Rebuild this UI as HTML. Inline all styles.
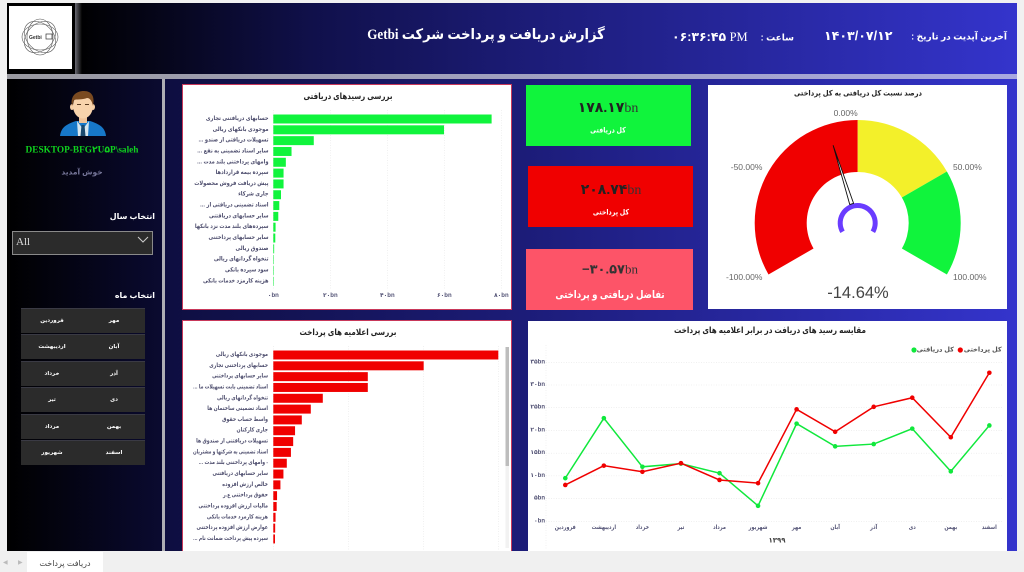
<!DOCTYPE html>
<html lang="fa">
<head>
<meta charset="utf-8">
<title>Getbi dashboard</title>
<style>
html,body{margin:0;padding:0;background:#f1f1f1;}
body{position:relative;width:1024px;height:572px;overflow:hidden;font-family:"Liberation Sans","DejaVu Sans",sans-serif;filter:blur(.35px);}
.a{position:absolute;}
.t{position:absolute;white-space:nowrap;line-height:1;font-weight:bold;}
.c{transform:translate(-50%,-50%);}
.r{transform:translateY(-50%);direction:rtl;}
.serif{font-family:"Liberation Serif","DejaVu Sans",serif;}
.card{position:absolute;background:#fff;overflow:hidden;}
.card svg{position:absolute;left:0;top:0;}
.slicer{position:absolute;width:62px;height:24px;background:#2b2b2b;border-top:1px solid #3a3a44;color:#fff;font-size:5.5px;font-weight:bold;text-align:center;line-height:24px;direction:rtl;}
svg text{font-family:"Liberation Sans","DejaVu Sans",sans-serif;}
</style>
</head>
<body>

<div class="a" style="left:7px;top:3px;width:1010px;height:71px;background:linear-gradient(90deg,#000 7%,#10104a 30%,#1c1c78 52%,#3434cc 100%);"></div>
<div class="a" style="left:7px;top:74px;width:1010px;height:5px;background:linear-gradient(90deg,#9a9aa0,#a8a8e0);"></div>
<div class="a" style="left:75px;top:3px;width:7px;height:71px;background:linear-gradient(90deg,#6a6a72,#000);"></div>
<div class="a" style="left:9px;top:6px;width:63px;height:63px;background:#fff;">
  <svg width="63" height="63" viewBox="0 0 63 63">
    <g fill="none" stroke="#555" stroke-width=".6">
      <ellipse cx="31" cy="31" rx="18" ry="13"/>
      <ellipse cx="31" cy="31" rx="18" ry="13" transform="rotate(45 31 31)"/>
      <ellipse cx="31" cy="31" rx="18" ry="13" transform="rotate(90 31 31)"/>
      <ellipse cx="31" cy="31" rx="18" ry="13" transform="rotate(135 31 31)"/>
    </g>
    <text x="20" y="33" font-size="5" font-weight="bold" fill="#333">Getbi</text>
    <rect x="37" y="28" width="6" height="5" fill="none" stroke="#333" stroke-width=".7"/>
  </svg>
</div>

<div class="t serif" style="left:486px;top:35px;transform:translate(-50%,-50%) scaleX(.9);direction:rtl;color:#fff;font-size:14.5px;">گزارش دریافت و پرداخت شرکت Getbi</div>
<div class="t r" style="right:17px;top:37px;color:#fff;font-size:9px;">آخرین آپدیت در تاریخ :</div>
<div class="t" style="left:824px;top:30px;color:#fff;font-size:12.6px;">۱۴۰۳/۰۷/۱۲</div>
<div class="t r" style="right:230px;top:38px;color:#fff;font-size:9px;">ساعت :</div>
<div class="t" style="left:672px;top:31px;color:#fff;font-size:12.5px;">۰۶:۳۶:۴۵ <span class="serif" style="font-weight:normal;">PM</span></div>

<div class="a" style="left:7px;top:79px;width:155px;height:472px;background:linear-gradient(90deg,#000,#0a0a30);"></div>
<div class="a" style="left:162px;top:79px;width:3px;height:472px;background:#aeaeb4;"></div>
<div class="a" style="left:165px;top:79px;width:852px;height:472px;background:linear-gradient(90deg,#0e0e40,#1c1c78 42%,#3434cc);"></div>

<svg class="a" style="left:55px;top:88px;" width="56" height="50" viewBox="55 88 56 50">
  <path d="M60 136 C61 127 67 124 76 121 L90 121 C99 124 105 127 106 136 Z" fill="#1778c9"/>
  <path d="M77 121 L83 129 L89 121 L88 136 L78 136 Z" fill="#d7e6ef"/>
  <path d="M81.5 125 L84.5 125 L85.5 136 L80.5 136 Z" fill="#1a4a70"/>
  <rect x="79" y="113" width="8" height="10" fill="#efc39a"/>
  <ellipse cx="72" cy="107" rx="2" ry="3" fill="#f6cfa6"/>
  <ellipse cx="93" cy="107" rx="2" ry="3" fill="#f6cfa6"/>
  <ellipse cx="83" cy="106" rx="10" ry="12.5" fill="#f8d3ac"/>
  <path d="M72 106 C70 96 76 91 84 91 C92 91 95 97 93 106 C92 101 90 98 87 98 C82 100 76 99 74 100 Z" fill="#7a4a20"/>
  <rect x="77" y="104" width="4" height="1" fill="#5a3a20"/>
  <rect x="85" y="104" width="4" height="1" fill="#5a3a20"/>
</svg>

<div class="t serif c" style="left:82px;top:151px;color:#0fd21e;font-size:9.3px;">DESKTOP-BFG۲U۵P\saleh</div>
<div class="t c" style="left:82px;top:172px;color:#77779a;font-size:7.5px;direction:rtl;">خوش آمدید</div>
<div class="t r" style="right:869px;top:217px;color:#fff;font-size:7.9px;">انتخاب سال</div>
<div class="a" style="left:12px;top:231px;width:139px;height:22px;background:#2b2b2b;border:1px solid #8a8a8a;">
  <span class="serif" style="position:absolute;left:3px;top:5px;color:#ddd;font-size:11px;line-height:1;">All</span>
  <svg width="12" height="8" style="position:absolute;right:3px;top:4px;"><path d="M1 1 L6 6 L11 1" fill="none" stroke="#ccc" stroke-width="1"/></svg>
</div>
<div class="t r" style="right:869px;top:296px;color:#fff;font-size:7.9px;">انتخاب ماه</div>

<div class="slicer" style="left:21px;top:308px;">فروردین</div>
<div class="slicer" style="left:83px;top:308px;">مهر</div>
<div class="slicer" style="left:21px;top:334px;">اردیبهشت</div>
<div class="slicer" style="left:83px;top:334px;">آبان</div>
<div class="slicer" style="left:21px;top:361px;">خرداد</div>
<div class="slicer" style="left:83px;top:361px;">آذر</div>
<div class="slicer" style="left:21px;top:387px;">تیر</div>
<div class="slicer" style="left:83px;top:387px;">دی</div>
<div class="slicer" style="left:21px;top:414px;">مرداد</div>
<div class="slicer" style="left:83px;top:414px;">بهمن</div>
<div class="slicer" style="left:21px;top:440px;">شهریور</div>
<div class="slicer" style="left:83px;top:440px;">اسفند</div>

<div class="card" style="left:183px;top:85px;width:328px;height:224px;box-shadow:0 0 0 1px #c8385a;"><svg id="chartA" width="328" height="224" viewBox="183 85 328 224"></svg></div>
<div class="card" style="left:183px;top:321px;width:328px;height:230px;box-shadow:0 0 0 1px #c8385a;"><svg id="chartB" width="328" height="230" viewBox="183 321 328 230"></svg></div>

<div class="a" style="left:526px;top:85px;width:165px;height:61px;background:#10f43c;"></div>
<div class="t c" style="left:608px;top:108px;color:#222;font-size:14px;direction:ltr;">۱۷۸.۱۷<span class="serif" style="font-weight:normal;color:#333;">bn</span></div>
<div class="t" style="left:608px;top:130px;transform:translate(-50%,-50%) scaleX(.84);color:#fff;font-size:7.5px;direction:rtl;">کل دریافتی</div>
<div class="a" style="left:528px;top:166px;width:165px;height:61px;background:#f00000;"></div>
<div class="t c" style="left:611px;top:190px;color:#222;font-size:14px;direction:ltr;">۲۰۸.۷۴<span class="serif" style="font-weight:normal;color:#333;">bn</span></div>
<div class="t" style="left:611px;top:212px;transform:translate(-50%,-50%) scaleX(.84);color:#fff;font-size:7.5px;direction:rtl;">کل پرداختی</div>
<div class="a" style="left:526px;top:249px;width:167px;height:61px;background:#fd5468;"></div>
<div class="t c" style="left:610px;top:269px;color:#333;font-size:13px;direction:ltr;">−۳۰.۵۷<span class="serif" style="font-weight:normal;">bn</span></div>
<div class="t" style="left:610px;top:295px;transform:translate(-50%,-50%) scaleX(.82);color:#fff;font-size:10.5px;direction:rtl;">تفاضل دریافتی و پرداختی</div>

<div class="card" style="left:708px;top:85px;width:299px;height:224px;"><svg id="gauge" width="299" height="224" viewBox="708 85 299 224"></svg></div>
<div class="card" style="left:528px;top:321px;width:479px;height:230px;"><svg id="lineChart" width="479" height="230" viewBox="528 321 479 230"></svg></div>

<div class="a" style="left:0;top:551px;width:1024px;height:21px;background:#f0f0f0;"></div>
<div class="t" style="left:3px;top:560px;color:#bbb;font-size:6px;font-weight:normal;">◀</div>
<div class="t" style="left:18px;top:560px;color:#bbb;font-size:6px;font-weight:normal;">▶</div>
<div class="a" style="left:27px;top:552px;width:76px;height:20px;background:#fff;"></div>
<div class="t c" style="left:65px;top:564px;color:#444;font-size:8px;font-weight:normal;direction:rtl;">دریافت پرداخت</div>

<script>
const receivableLabels = ["حسابهای دریافتنی تجاری","موجودی بانکهای ریالی","تسهیلات دریافتی از صندو …","سایر اسناد تضمینی به نفع …","وامهای پرداختنی بلند مدت …","سپرده بیمه قراردادها","پیش دریافت فروش محصولات","جاری شرکاء","اسناد تضمینی دریافتی از …","سایر حسابهای دریافتنی","سپرده‌های بلند مدت نزد بانکها","سایر حسابهای پرداختنی","صندوق ریالی","تنخواه گردانهای ریالی","سود سپرده بانکی","هزینه کارمزد خدمات بانکی"];
const receivableValues = [76.6,59.9,14.2,6.4,4.4,3.6,3.6,2.7,2.1,1.75,0.8,0.7,0.3,0.12,0.08,0.06];
const receivableTicks = [0,20,40,60,80];
const receivableTickLabels = ["۰bn","۲۰bn","۴۰bn","۶۰bn","۸۰bn"];

const payableLabels = ["موجودی بانکهای ریالی","حسابهای پرداختنی تجاری","سایر حسابهای پرداختنی","اسناد تضمینی بابت تسهیلات ما …","تنخواه گردانهای ریالی","اسناد تضمینی ساختمان ها","واسط حساب حقوق","جاری کارکنان","تسهیلات دریافتنی از صندوق ها","اسناد تضمینی به شرکتها و مشتریان","- وامهای پرداختنی بلند مدت …","سایر حسابهای دریافتنی","خالص ارزش افزوده","حقوق پرداختنی ع.ر","مالیات ارزش افزوده پرداختنی","هزینه کارمزد خدمات بانکی","عوارض ارزش افزوده پرداختنی","سپرده پیش پرداخت ضمانت نام …"];
const payableValues = [60,40.1,25.2,25.2,13.2,10,7.6,5.8,5.3,4.7,3.6,2.7,1.9,1,0.9,0.6,0.5,0.45];
const payableTicks = [0,20,40,60];

const months = ["فروردین","اردیبهشت","خرداد","تیر","مرداد","شهریور","مهر","آبان","آذر","دی","بهمن","اسفند"];
const receivedSeries = [9.5,22.7,12.0,12.7,10.6,3.4,21.5,16.5,17.0,20.4,11.0,21.1];
const paidSeries = [8.0,12.25,10.9,12.8,9.1,8.4,24.65,19.7,25.2,27.2,18.5,32.7];
const lineTicks = [0,5,10,15,20,25,30,35];
const lineTickLabels = ["۰bn","۵bn","۱۰bn","۱۵bn","۲۰bn","۲۵bn","۳۰bn","۳۵bn"];

const gaugeValue = -14.64;
const gaugeMin = -100;
const gaugeMax = 100;
const gaugeStops = [-100,0,50,100];
const gaugeLabels = ["-100.00%","-50.00%","0.00%","50.00%","100.00%"];
const gaugeLabelValues = [-100,-50,0,50,100];

const NS = "http://www.w3.org/2000/svg";
function mk(parent, tag) {
  const el = document.createElementNS(NS, tag);
  parent.appendChild(el);
  return el;
}
function setAll(el, props) {
  for (const k in props) el.setAttribute(k, props[k]);
  return el;
}
function fa(v, parent, x, y, str, size, fill, anchor, weight, rtl) {
  const t = mk(parent, "text");
  setAll(t, {x: x, y: y, "font-size": size, fill: fill, "text-anchor": anchor, "font-weight": weight, "dominant-baseline": "central"});
  if (rtl) t.setAttribute("direction", "rtl");
  t.textContent = str;
  return t;
}
function squeeze(t, factor, maxW) {
  let w = t.getComputedTextLength() * factor;
  if (maxW && w > maxW) w = maxW;
  t.setAttribute("textLength", w);
  t.setAttribute("lengthAdjust", "spacingAndGlyphs");
}

function drawBarChart(svg, opts) {
  const x = v => opts.x0 + v * opts.pxPerUnit;
  const y = i => opts.y0 + i * opts.step;
  opts.ticks.forEach((tv, i) => {
    const g = mk(svg, "line");
    
    
    setAll(g, {x1: x(tv), x2: x(tv), y1: opts.gridTop, y2: opts.gridBottom, stroke: "#e6e6e6", "stroke-width": .6, "stroke-dasharray": "1 1.5"});
    if (opts.tickLabels) {
      const tl = fa(0, svg, x(tv), opts.tickY, opts.tickLabels[i], 6, "#555577", "middle", "bold", false);
      
      
    }
  });
  opts.values.forEach((val, i) => {
    const r = mk(svg, "rect");
    
    
    setAll(r, {x: x(0), y: y(i) - 4.5, width: Math.max(x(val) - x(0), .5), height: 9, fill: opts.color});
    const t = fa(0, svg, opts.labelX, y(i), opts.labels[i], opts.labelSize, "#4e4e6e", "end", "bold", false);
    t.setAttribute("direction", "rtl");
    t.setAttribute("text-anchor", "start");
    
    
    squeeze(t, opts.labelFactor, 75);
  });
}

const chartA = document.getElementById("chartA");
const titleA = fa(0, chartA, 348, 96, "بررسی رسیدهای دریافتی", 8.5, "#222", "middle", "bold", true);


titleA.setAttribute("textLength", 89);
titleA.setAttribute("lengthAdjust", "spacingAndGlyphs");
drawBarChart(chartA, {x0: 273.3, pxPerUnit: 2.85, y0: 119, step: 10.82, values: receivableValues, labels: receivableLabels, ticks: receivableTicks, tickLabels: receivableTickLabels, tickY: 296, gridTop: 110, gridBottom: 290, labelX: 268.5, labelSize: 6, labelFactor: .85, color: "#10f43c"});

const chartB = document.getElementById("chartB");
const titleB = fa(0, chartB, 348, 332, "بررسی اعلامیه های پرداخت", 8.5, "#222", "middle", "bold", true);


titleB.setAttribute("textLength", 97);
titleB.setAttribute("lengthAdjust", "spacingAndGlyphs");
drawBarChart(chartB, {x0: 273.3, pxPerUnit: 3.75, y0: 355, step: 10.82, values: payableValues, labels: payableLabels, ticks: payableTicks, tickLabels: null, tickY: 0, gridTop: 346, gridBottom: 550, labelX: 268, labelSize: 5.8, labelFactor: .82, color: "#f00000"});
const track = mk(chartB, "rect");


setAll(track, {x: 505.5, y: 347, width: 3.5, height: 201, fill: "#f2f2f2"});
const thumb = mk(chartB, "rect");


setAll(thumb, {x: 505.5, y: 347, width: 3.5, height: 119, fill: "#bdbdbd"});

const gaugeSvg = document.getElementById("gauge");
const gcx = 857.7, gcy = 223, gR = 103, gr = 51;
const gAngle = v => (v - gaugeMin) / (gaugeMax - gaugeMin) * 240 - 120;
const gPoint = (v, rad) => {
  const a = gAngle(v) * Math.PI / 180;
  return [gcx + rad * Math.sin(a), gcy - rad * Math.cos(a)];
};
const gaugeColors = ["#f00000","#f3f02a","#10f43c"];
const gTitle = fa(0, gaugeSvg, 858, 93, "درصد نسبت کل دریافتی به کل پرداختی", 7.5, "#222", "middle", "bold", true);


gTitle.setAttribute("textLength", 128);
gTitle.setAttribute("lengthAdjust", "spacingAndGlyphs");
for (let i = 0; i < gaugeStops.length - 1; i++) {
  const p1 = gPoint(gaugeStops[i], gR), p2 = gPoint(gaugeStops[i + 1], gR), p3 = gPoint(gaugeStops[i + 1], gr), p4 = gPoint(gaugeStops[i], gr);
  const large = gAngle(gaugeStops[i + 1]) - gAngle(gaugeStops[i]) > 180 ? 1 : 0;
  const seg = mk(gaugeSvg, "path");
  
  
  setAll(seg, {d: `M${p1} A${gR} ${gR} 0 ${large} 1 ${p2} L${p3} A${gr} ${gr} 0 ${large} 0 ${p4} Z`, fill: gaugeColors[i]});
}
const hubA = gPoint(gaugeMin, 17.5), hubB = gPoint(gaugeMax, 17.5);
const hub = mk(gaugeSvg, "path");


setAll(hub, {d: `M${hubA} A17.5 17.5 0 1 1 ${hubB}`, fill: "none", stroke: "#6a3cff", "stroke-width": 5});
{
  const a = gAngle(gaugeValue) * Math.PI / 180;
  const tip = gPoint(gaugeValue, 81.5), base = gPoint(gaugeValue, 20);
  const nx = Math.cos(a) * 2, ny = Math.sin(a) * 2;
  const needle = mk(gaugeSvg, "polygon");
  
  
  setAll(needle, {points: `${tip} ${base[0] + nx},${base[1] + ny} ${base[0] - nx},${base[1] - ny}`, fill: "#fff", stroke: "#111", "stroke-width": .9});
}
gaugeLabelValues.forEach((v, i) => {
  const p = gPoint(v, 110);
  const l = fa(0, gaugeSvg, p[0], p[1] + (v === 0 ? 0 : -1), gaugeLabels[i], 8.5, "#666", v > 0 ? "start" : "end", "normal", false);
  
  
});
const gVal = fa(0, gaugeSvg, 858, 293, gaugeValue.toFixed(2) + "%", 16.5, "#444", "middle", "normal", false);



const line = document.getElementById("lineChart");
const lx = i => 565.3 + i * 38.55;
const ly = v => 521.3 - v * 4.543;
const lTitle = fa(0, line, 770, 330, "مقایسه رسید های دریافت در برابر اعلامیه های پرداخت", 8.5, "#222", "middle", "bold", true);


lTitle.setAttribute("textLength", 192);
lTitle.setAttribute("lengthAdjust", "spacingAndGlyphs");
lineTicks.forEach((tv, i) => {
  const g = mk(line, "line");
  
  
  setAll(g, {x1: 546, x2: 1003, y1: ly(tv), y2: ly(tv), stroke: "#e6e6e6", "stroke-width": .6, "stroke-dasharray": "1 1.5"});
  const t = fa(0, line, 545, ly(tv), lineTickLabels[i], 6, "#555577", "end", "bold", false);
  
  
});
const yAxis = mk(line, "line");


setAll(yAxis, {x1: 546, x2: 546, y1: 345, y2: 550, stroke: "#e8e8e8", "stroke-width": .6, "stroke-dasharray": "1 1.5"});
months.forEach((m, i) => {
  const t = fa(0, line, lx(i), 528, m, 5.8, "#555577", "middle", "bold", true);
  
  
  squeeze(t, .85);
});
const yearLabel = fa(0, line, 777, 541, "۱۳۹۹", 7, "#444", "middle", "bold", false);



function drawSeries(values, color, name) {
  const path = mk(line, "polyline");
  
  
  setAll(path, {points: values.map((v, i) => lx(i) + "," + ly(v)).join(" "), fill: "none", stroke: color, "stroke-width": 1.5});
  values.forEach((v, i) => {
    const c = mk(line, "circle");
    
    
    setAll(c, {cx: lx(i), cy: ly(v), r: 2.3, fill: color});
  });
}
drawSeries(receivedSeries, "#10e83c", "received");
drawSeries(paidSeries, "#f00000", "paid");

const legRed = mk(line, "circle");


setAll(legRed, {cx: 960.3, cy: 350, r: 2.6, fill: "#f00000"});
const legRedT = fa(0, line, 1001.7, 350, "کل پرداختی", 6.6, "#555", "start", "bold", true);


const legGreen = mk(line, "circle");


setAll(legGreen, {cx: 914, cy: 350, r: 2.6, fill: "#10e83c"});
const legGreenT = fa(0, line, 954, 350, "کل دریافتی", 6.6, "#555", "start", "bold", true);


</script>
</body>
</html>
